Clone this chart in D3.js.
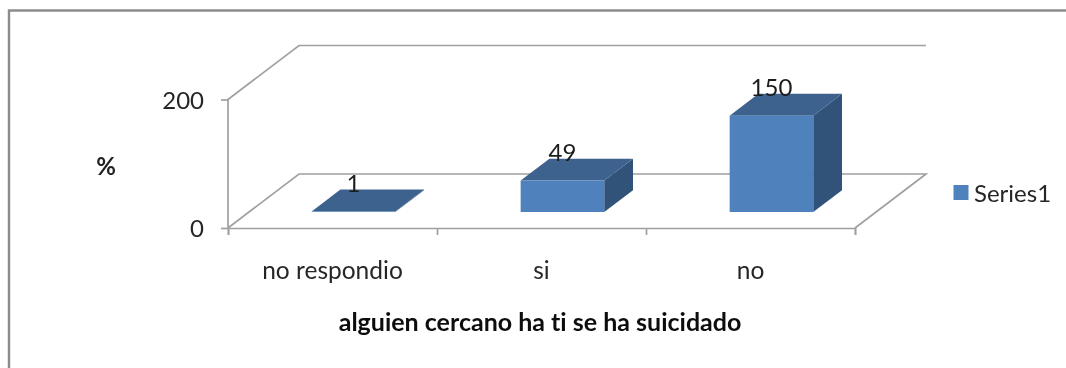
<!DOCTYPE html>
<html><head><meta charset="utf-8">
<script src="https://cdn.jsdelivr.net/npm/d3@7"></script>
<style>html,body{margin:0;padding:0;background:#fff}svg{display:block}text{font-family:Lato,"Open Sans",sans-serif;fill:#262626;font-variant-ligatures:none}</style>
</head><body><svg id="c" width="1066" height="368"></svg>
<script>
const categories = ["no respondio", "si", "no"];
const seriesValues = [1, 49, 150];
const seriesName = "Series1";
const yTicks = [0, 200];
const xTitle = "alguien cercano ha ti se ha suicidado";
const yTitle = "%";

const svg = d3.select("#c");
svg.append("defs").append("filter").attr("id","soft").append("feGaussianBlur").attr("stdDeviation",0.6);
const root = svg.append("g").attr("filter","url(#soft)");

root.append("path").attr("d","M1066,10.5H9V368").attr("fill","none").attr("stroke","#8c8c8c").attr("stroke-width",2.4);

const x = d3.scaleBand().domain(categories).range([228,855]).paddingInner(0.6).paddingOuter(0.3);
const xEdge = d3.scaleLinear().domain([0,categories.length]).range([228,855]);
const y = d3.scaleLinear().domain(yTicks).range([228,99.5]);
const depth = {dx:71, dy:-54};
const p = (px,py,f)=>[px+depth.dx*f, py+depth.dy*f];
const poly = pts => "M"+pts.map(q=>q.join(",")).join("L")+"Z";
const gridCol = "#a0a0a0";

const wall = d3.path();
wall.moveTo(...p(855,y(0),0)); wall.lineTo(...p(855,y(0),1)); wall.lineTo(...p(228,y(0),1)); wall.lineTo(228,y(0));
wall.moveTo(...p(855,y(200),1)); wall.lineTo(...p(228,y(200),1)); wall.lineTo(228,y(200)); wall.lineTo(228,y(0));
root.append("path").attr("d",wall.toString()).attr("fill","none").attr("stroke",gridCol).attr("stroke-width",1.7);

const axisY = d3.axisLeft(y).tickValues(yTicks).tickSize(7).tickPadding(17);
const gy = root.append("g").attr("transform","translate(228,0)").call(axisY);
gy.select(".domain").remove();
gy.selectAll("line").attr("stroke",gridCol).attr("stroke-width",1.7);
gy.selectAll("text").attr("font-size",24).attr("dy","0.36em").style("font-family","Lato");

const axisX = d3.axisBottom(xEdge).tickValues(d3.range(categories.length+1)).tickSize(7).tickFormat("");
const gx = root.append("g").attr("transform",`translate(0,${y(0)})`).call(axisX);
gx.select(".domain").attr("stroke",gridCol).attr("stroke-width",1.7);
gx.selectAll("line").attr("stroke",gridCol).attr("stroke-width",1.7);

root.selectAll(".cat").data(categories).join("text").attr("class","cat")
  .attr("x",(d,i)=>(xEdge(i)+xEdge(i+1))/2).attr("y",279).attr("text-anchor","middle").attr("font-size",24.5).text(d=>d);

const f0 = 0.295, f1 = 0.70;
const bars = root.selectAll(".bar").data(categories.map((c,i)=>({c,v:seriesValues[i]}))).join("g").attr("class","bar");
bars.each(function(d){
  const g = d3.select(this);
  const l = x(d.c), r = l + x.bandwidth();
  const A = f=>p(l,y(0),f), B=f=>p(r,y(0),f), C=f=>p(r,y(d.v),f), D=f=>p(l,y(d.v),f);
  g.append("path").attr("d",poly([B(f0),B(f1),C(f1),C(f0)])).attr("fill","#315379");
  g.append("path").attr("d",poly([D(f0),C(f0),C(f1),D(f1)])).attr("fill","#3e628e");
  g.append("path").attr("d",poly([A(f0),B(f0),C(f0),D(f0)])).attr("fill","#4f81bd");
  const top = p((l+r)/2,y(d.v),f0);
  g.append("text").attr("x",top[0]).attr("y",top[1]-19.5).attr("text-anchor","middle").attr("font-size",24).style("fill","#1c1c1c").text(d.v);
});

root.append("text").attr("x",540).attr("y",331).attr("text-anchor","middle").attr("font-size",25).attr("font-weight",700).style("fill","#111").text(xTitle);
root.append("text").attr("x",106).attr("y",175).attr("text-anchor","middle").attr("font-size",24).attr("font-weight",700).style("fill","#222").text(yTitle);

root.append("rect").attr("x",953.5).attr("y",185).attr("width",15).attr("height",15).attr("fill","#4f81bd");
root.append("text").attr("x",974).attr("y",202).attr("font-size",24).text(seriesName);
</script></body></html>
